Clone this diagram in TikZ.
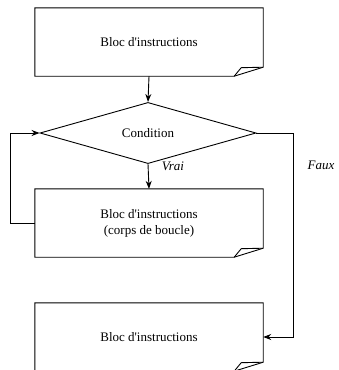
\documentclass[tikz,border=0pt]{standalone}
\usepackage{fontspec}
\setmainfont{Liberation Serif}
\usetikzlibrary{shapes.geometric,arrows.meta}
\begin{document}
\begin{tikzpicture}[x=1pt,y=-1pt,
  every node/.style={font=\fontsize{13}{16}\selectfont},
  docbox/.style={minimum width=228pt,minimum height=68pt,inner sep=0pt,align=center},
  cond/.style={diamond,draw,line width=0.9pt,minimum width=216pt,minimum height=45pt,inner sep=0pt},
  lab/.style={font=\fontsize{13}{16}\selectfont\itshape},
  conn/.style={line width=0.9pt,-{Stealth[length=8pt,width=6pt]}},
  edge/.style={line width=0.9pt,line join=miter}]
\clip (0,0) rectangle (339,370);
\useasboundingbox (0,0) rectangle (339,370);
\node[docbox] (b1) at (149,42) {Bloc d\textquotesingle instructions};
\node[cond] (c) at (148,133) {Condition};
\node[docbox] (b2) at (149,223) {Bloc d\textquotesingle instructions\\(corps de boucle)};
\node[docbox] (b3) at (149,337) {Bloc d\textquotesingle instructions};
\foreach \n in {b1,b2,b3}{
  \draw[edge] (\n.north west) -- (\n.north east) -- ([yshift=9pt]\n.south east)
    -- ([xshift=-29pt]\n.south east) -- (\n.south west) -- cycle;
  \draw[edge] ([xshift=-29pt]\n.south east) -- ([xshift=-22pt,yshift=8.5pt]\n.south east)
    -- ([yshift=9pt]\n.south east);
}
\coordinate (fr) at (293,133);
\coordinate (lp) at (10,223);
\draw[conn] (b1.south) -- (c.north);
\draw[conn] (c.south) -- (b2.north);
\draw[conn] (b2.west) -- (lp) |- (c.west);
\draw[conn] (c.east) -- (fr) |- (b3.east);
\node[lab] (vrai) at (173,166) {Vrai};
\node[lab] (faux) at (321,165) {Faux};
\end{tikzpicture}
\end{document}
